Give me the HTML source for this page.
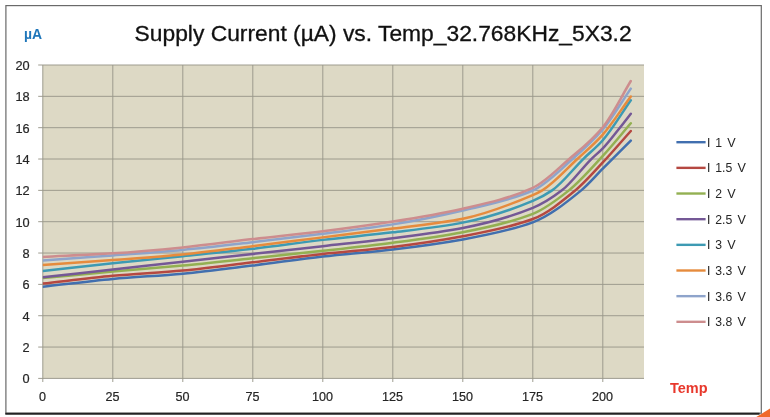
<!DOCTYPE html>
<html><head><meta charset="utf-8"><title>Supply Current vs Temp</title>
<style>
html,body{margin:0;padding:0;background:#fff;}
body{width:770px;height:417px;overflow:hidden;}
svg{display:block;font-family:"Liberation Sans",sans-serif;}
</style></head><body>
<svg width="770" height="417" viewBox="0 0 770 417">
<rect x="0" y="0" width="770" height="417" fill="#ffffff"/>

<polygon points="756.3,417 770,408.6 770,417" fill="#F0692B"/>
<g id="frame">
<rect x="5.9" y="5.6" width="755.4" height="407.6" fill="#fff" stroke="#6a6a6a" stroke-width="1.2"/>
<line x1="5.3" y1="413.7" x2="759.6" y2="413.7" stroke="#222" stroke-width="2.1"/>
</g>
<rect x="42.8" y="65.0" width="601.2" height="313.4" fill="#DDD9C5"/>
<g stroke="#9a988b" stroke-width="0.95" fill="none">
<line x1="38.2" y1="378.40" x2="644.0" y2="378.40"/>
<line x1="38.2" y1="347.06" x2="644.0" y2="347.06"/>
<line x1="38.2" y1="315.72" x2="644.0" y2="315.72"/>
<line x1="38.2" y1="284.38" x2="644.0" y2="284.38"/>
<line x1="38.2" y1="253.04" x2="644.0" y2="253.04"/>
<line x1="38.2" y1="221.70" x2="644.0" y2="221.70"/>
<line x1="38.2" y1="190.36" x2="644.0" y2="190.36"/>
<line x1="38.2" y1="159.02" x2="644.0" y2="159.02"/>
<line x1="38.2" y1="127.68" x2="644.0" y2="127.68"/>
<line x1="38.2" y1="96.34" x2="644.0" y2="96.34"/>
<line x1="38.2" y1="65.00" x2="644.0" y2="65.00"/>
<line x1="42.80" y1="65.0" x2="42.80" y2="382.0"/>
<line x1="112.80" y1="65.0" x2="112.80" y2="382.0"/>
<line x1="182.80" y1="65.0" x2="182.80" y2="382.0"/>
<line x1="252.80" y1="65.0" x2="252.80" y2="382.0"/>
<line x1="322.80" y1="65.0" x2="322.80" y2="382.0"/>
<line x1="392.80" y1="65.0" x2="392.80" y2="382.0"/>
<line x1="462.80" y1="65.0" x2="462.80" y2="382.0"/>
<line x1="532.80" y1="65.0" x2="532.80" y2="382.0"/>
<line x1="602.80" y1="65.0" x2="602.80" y2="382.0"/>
</g>
<defs><clipPath id="pc"><rect x="42.8" y="65.0" width="601.2" height="313.4"/></clipPath></defs>
<g fill="none" stroke-width="2.5" stroke-linecap="round" clip-path="url(#pc)" stroke-linejoin="round">
<path d="M42.80,286.73 C66.13,284.12 89.47,280.97 112.80,278.90 C136.13,276.82 159.47,275.83 182.80,273.72 C206.13,271.62 229.47,268.44 252.80,265.58 C276.13,262.71 299.47,259.13 322.80,256.49 C346.13,253.84 369.47,252.20 392.80,249.44 C416.13,246.68 439.47,243.62 462.80,239.41 C486.13,235.19 509.47,230.88 532.80,222.33 C548.95,216.41 565.09,203.56 581.24,190.36 C588.43,184.48 595.61,175.96 602.80,168.74 C612.13,159.35 621.47,149.93 630.80,140.53" stroke="#416FAF"/>
<path d="M42.80,283.60 C66.13,280.98 89.47,277.84 112.80,275.76 C136.13,273.68 159.47,272.71 182.80,270.59 C206.13,268.47 229.47,265.05 252.80,262.29 C276.13,259.52 299.47,256.52 322.80,253.98 C346.13,251.44 369.47,249.76 392.80,246.93 C416.13,244.10 439.47,240.66 462.80,236.27 C486.13,231.88 509.47,227.78 532.80,219.04 C546.99,213.72 561.17,202.03 575.36,190.36 C584.51,182.84 593.65,172.23 602.80,162.47 C612.13,152.50 621.47,141.47 630.80,130.97" stroke="#B54841"/>
<path d="M42.80,278.11 C66.13,275.92 89.47,273.61 112.80,271.53 C136.13,269.45 159.47,267.77 182.80,265.58 C206.13,263.38 229.47,260.67 252.80,258.21 C276.13,255.76 299.47,253.43 322.80,250.85 C346.13,248.27 369.47,245.76 392.80,242.70 C416.13,239.64 439.47,236.65 462.80,232.20 C486.13,227.75 509.47,222.99 532.80,213.86 C544.84,209.15 556.88,199.94 568.92,190.36 C580.21,181.37 591.51,168.18 602.80,155.89 C612.13,145.73 621.47,134.16 630.80,123.29" stroke="#93B052"/>
<path d="M42.80,277.33 C66.13,274.72 89.47,272.11 112.80,269.49 C136.13,266.88 159.47,264.24 182.80,261.66 C206.13,259.07 229.47,256.57 252.80,253.98 C276.13,251.39 299.47,248.78 322.80,246.15 C346.13,243.51 369.47,241.14 392.80,238.15 C416.13,235.17 439.47,232.47 462.80,227.97 C486.13,223.46 509.47,217.44 532.80,207.91 C542.51,203.95 552.21,197.83 561.92,190.36 C571.72,182.82 581.52,168.65 591.32,159.02 C595.15,155.26 598.97,152.35 602.80,148.36 C608.49,142.43 614.19,134.77 619.88,127.68 C623.52,123.15 627.16,118.38 630.80,113.73" stroke="#745896"/>
<path d="M42.80,271.06 C66.13,268.45 89.47,265.70 112.80,263.23 C136.13,260.75 159.47,258.58 182.80,256.17 C206.13,253.77 229.47,251.50 252.80,248.81 C276.13,246.12 299.47,242.60 322.80,239.88 C346.13,237.16 369.47,235.18 392.80,232.36 C416.13,229.53 439.47,227.12 462.80,222.64 C486.13,218.16 509.47,210.59 532.80,200.86 C539.24,198.17 545.68,194.80 552.12,190.36 C562.48,183.21 572.84,169.19 583.20,159.02 C589.73,152.61 596.27,147.63 602.80,140.22 C612.13,129.63 621.47,113.58 630.80,100.26" stroke="#3D9AB3"/>
<path d="M42.80,264.95 C66.13,263.33 89.47,261.83 112.80,260.09 C136.13,258.35 159.47,256.69 182.80,254.45 C206.13,252.21 229.47,248.99 252.80,246.15 C276.13,243.30 299.47,240.30 322.80,237.37 C346.13,234.44 369.47,231.69 392.80,228.59 C416.13,225.50 439.47,223.37 462.80,218.72 C486.13,214.08 509.47,204.89 532.80,195.06 C535.97,193.72 539.15,192.27 542.32,190.36 C553.99,183.32 565.65,169.85 577.32,159.02 C585.81,151.14 594.31,144.10 602.80,134.57 C612.13,124.10 621.47,109.19 630.80,96.50" stroke="#E68B3D"/>
<path d="M42.80,260.56 C66.13,258.84 89.47,257.16 112.80,255.39 C136.13,253.62 159.47,252.04 182.80,249.91 C206.13,247.77 229.47,244.91 252.80,242.23 C276.13,239.54 299.47,236.73 322.80,233.77 C346.13,230.80 369.47,228.11 392.80,224.36 C416.13,220.62 439.47,215.88 462.80,210.42 C486.13,204.95 509.47,200.72 532.80,190.52 C546.05,184.72 559.31,170.68 572.56,159.02 C582.64,150.15 592.72,141.23 602.80,129.40 C612.13,118.45 621.47,102.24 630.80,88.66" stroke="#8EA4CB"/>
<path d="M42.80,256.96 C66.13,255.76 89.47,254.85 112.80,253.35 C136.13,251.86 159.47,249.71 182.80,247.40 C206.13,245.09 229.47,241.78 252.80,239.09 C276.13,236.41 299.47,234.15 322.80,231.26 C346.13,228.37 369.47,225.23 392.80,221.54 C416.13,217.86 439.47,213.99 462.80,208.69 C486.13,203.39 509.47,198.46 532.80,187.85 C544.93,182.34 557.07,169.50 569.20,159.02 C580.40,149.35 591.60,140.80 602.80,127.21 C612.13,115.89 621.47,96.39 630.80,80.98" stroke="#CD8D8E"/>
</g>
<g font-size="12.1" fill="#262626" stroke="#262626" stroke-width="0.2" text-anchor="end">
<text x="29.7" y="383.4" textLength="7.1" lengthAdjust="spacingAndGlyphs">0</text>
<text x="29.7" y="352.1" textLength="7.1" lengthAdjust="spacingAndGlyphs">2</text>
<text x="29.7" y="320.7" textLength="7.1" lengthAdjust="spacingAndGlyphs">4</text>
<text x="29.7" y="289.4" textLength="7.1" lengthAdjust="spacingAndGlyphs">6</text>
<text x="29.7" y="258.0" textLength="7.1" lengthAdjust="spacingAndGlyphs">8</text>
<text x="29.7" y="226.7" textLength="14.2" lengthAdjust="spacingAndGlyphs">10</text>
<text x="29.7" y="195.4" textLength="14.2" lengthAdjust="spacingAndGlyphs">12</text>
<text x="29.7" y="164.0" textLength="14.2" lengthAdjust="spacingAndGlyphs">14</text>
<text x="29.7" y="132.7" textLength="14.2" lengthAdjust="spacingAndGlyphs">16</text>
<text x="29.7" y="101.3" textLength="14.2" lengthAdjust="spacingAndGlyphs">18</text>
<text x="29.7" y="70.0" textLength="14.2" lengthAdjust="spacingAndGlyphs">20</text>
</g>
<g font-size="12.1" fill="#262626" stroke="#262626" stroke-width="0.2" text-anchor="middle">
<text x="42.5" y="400.6" textLength="7.0" lengthAdjust="spacingAndGlyphs">0</text>
<text x="112.5" y="400.6" textLength="14.0" lengthAdjust="spacingAndGlyphs">25</text>
<text x="182.5" y="400.6" textLength="14.0" lengthAdjust="spacingAndGlyphs">50</text>
<text x="252.5" y="400.6" textLength="14.0" lengthAdjust="spacingAndGlyphs">75</text>
<text x="322.5" y="400.6" textLength="21.0" lengthAdjust="spacingAndGlyphs">100</text>
<text x="392.5" y="400.6" textLength="21.0" lengthAdjust="spacingAndGlyphs">125</text>
<text x="462.5" y="400.6" textLength="21.0" lengthAdjust="spacingAndGlyphs">150</text>
<text x="532.5" y="400.6" textLength="21.0" lengthAdjust="spacingAndGlyphs">175</text>
<text x="602.5" y="400.6" textLength="21.0" lengthAdjust="spacingAndGlyphs">200</text>
</g>
<text x="134.6" y="41.0" font-size="21.4" fill="#111" stroke="#111" stroke-width="0.3" textLength="497" lengthAdjust="spacingAndGlyphs">Supply Current (µA) vs. Temp_32.768KHz_5X3.2</text>
<text x="23.9" y="39.3" font-size="14.5" font-weight="bold" fill="#1F76BA" textLength="18.1" lengthAdjust="spacingAndGlyphs">µA</text>
<text x="670" y="393.3" font-size="14" font-weight="bold" fill="#E8382C" textLength="37.6" lengthAdjust="spacingAndGlyphs">Temp</text>
<g font-size="12.1" fill="#262626" stroke-linecap="butt">
<line x1="676.4" y1="142.20" x2="705.6" y2="142.20" stroke="#416FAF" stroke-width="2.4"/>
<text y="146.6"><tspan x="707.0">I</tspan> <tspan x="715.2" textLength="6.8" lengthAdjust="spacingAndGlyphs">1</tspan> <tspan x="727.2" textLength="8.4" lengthAdjust="spacingAndGlyphs">V</tspan></text>
<line x1="676.4" y1="167.86" x2="705.6" y2="167.86" stroke="#B54841" stroke-width="2.4"/>
<text y="172.3"><tspan x="707.0">I</tspan> <tspan x="715.2" textLength="17.0" lengthAdjust="spacingAndGlyphs">1.5</tspan> <tspan x="737.4" textLength="8.4" lengthAdjust="spacingAndGlyphs">V</tspan></text>
<line x1="676.4" y1="193.52" x2="705.6" y2="193.52" stroke="#93B052" stroke-width="2.4"/>
<text y="197.9"><tspan x="707.0">I</tspan> <tspan x="715.2" textLength="6.8" lengthAdjust="spacingAndGlyphs">2</tspan> <tspan x="727.2" textLength="8.4" lengthAdjust="spacingAndGlyphs">V</tspan></text>
<line x1="676.4" y1="219.18" x2="705.6" y2="219.18" stroke="#745896" stroke-width="2.4"/>
<text y="223.6"><tspan x="707.0">I</tspan> <tspan x="715.2" textLength="17.0" lengthAdjust="spacingAndGlyphs">2.5</tspan> <tspan x="737.4" textLength="8.4" lengthAdjust="spacingAndGlyphs">V</tspan></text>
<line x1="676.4" y1="244.84" x2="705.6" y2="244.84" stroke="#3D9AB3" stroke-width="2.4"/>
<text y="249.2"><tspan x="707.0">I</tspan> <tspan x="715.2" textLength="6.8" lengthAdjust="spacingAndGlyphs">3</tspan> <tspan x="727.2" textLength="8.4" lengthAdjust="spacingAndGlyphs">V</tspan></text>
<line x1="676.4" y1="270.50" x2="705.6" y2="270.50" stroke="#E68B3D" stroke-width="2.4"/>
<text y="274.9"><tspan x="707.0">I</tspan> <tspan x="715.2" textLength="17.0" lengthAdjust="spacingAndGlyphs">3.3</tspan> <tspan x="737.4" textLength="8.4" lengthAdjust="spacingAndGlyphs">V</tspan></text>
<line x1="676.4" y1="296.16" x2="705.6" y2="296.16" stroke="#8EA4CB" stroke-width="2.4"/>
<text y="300.6"><tspan x="707.0">I</tspan> <tspan x="715.2" textLength="17.0" lengthAdjust="spacingAndGlyphs">3.6</tspan> <tspan x="737.4" textLength="8.4" lengthAdjust="spacingAndGlyphs">V</tspan></text>
<line x1="676.4" y1="321.82" x2="705.6" y2="321.82" stroke="#CD8D8E" stroke-width="2.4"/>
<text y="326.2"><tspan x="707.0">I</tspan> <tspan x="715.2" textLength="17.0" lengthAdjust="spacingAndGlyphs">3.8</tspan> <tspan x="737.4" textLength="8.4" lengthAdjust="spacingAndGlyphs">V</tspan></text>
</g>
</svg>
</body></html>
